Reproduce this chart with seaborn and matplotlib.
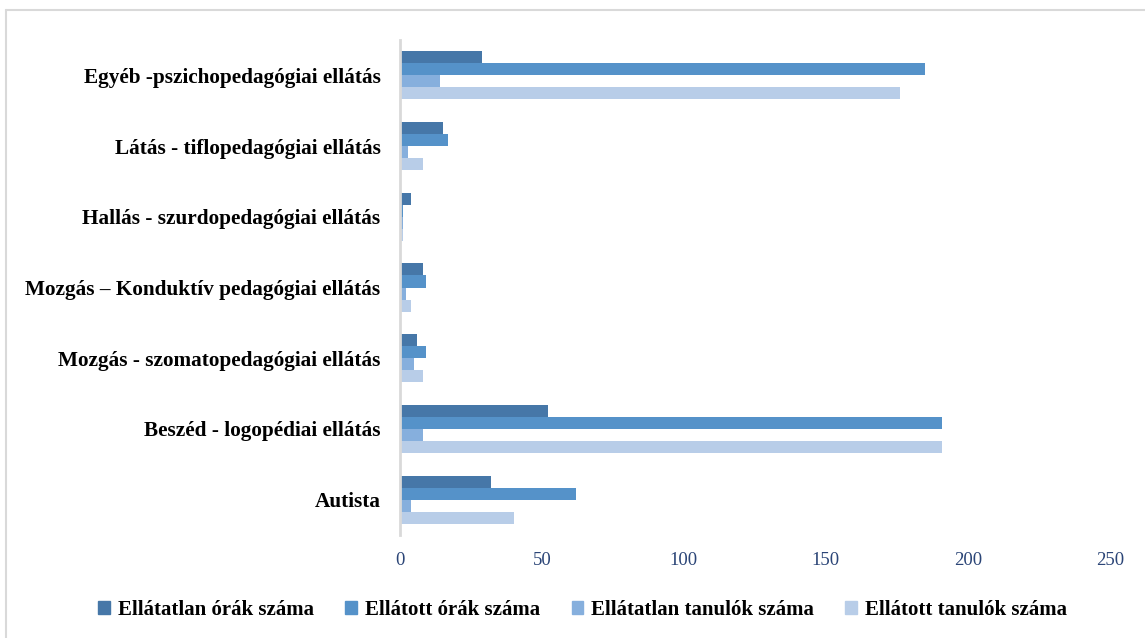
import pandas as pd
import matplotlib.pyplot as plt
import seaborn as sns
from matplotlib.lines import Line2D

# categories top to bottom
kategoriak = ["Egyéb -pszichopedagógiai ellátás",
              "Látás - tiflopedagógiai ellátás",
              "Hallás - szurdopedagógiai ellátás",
              "Mozgás – Konduktív pedagógiai ellátás",
              "Mozgás - szomatopedagógiai ellátás",
              "Beszéd - logopédiai ellátás",
              "Autista"]
ellatatlan_orak = [29, 15, 4, 8, 6, 52, 32]
ellatott_orak = [185, 17, 1, 9, 9, 191, 62]
ellatatlan_tanulok = [14, 3, 1, 2, 5, 8, 4]
ellatott_tanulok = [176, 8, 1, 4, 8, 191, 40]
sorozatok = ["Ellátatlan órák száma", "Ellátott órák száma",
             "Ellátatlan tanulók száma", "Ellátott tanulók száma"]
szinek = ["#4677A8", "#5592C9", "#86AFDD", "#B8CDE8"]

df = pd.DataFrame({"kat": kategoriak,
                   sorozatok[0]: ellatatlan_orak,
                   sorozatok[1]: ellatott_orak,
                   sorozatok[2]: ellatatlan_tanulok,
                   sorozatok[3]: ellatott_tanulok})
ldf = df.melt(id_vars="kat", var_name="sorozat", value_name="ertek")

sns.set_style("white")
plt.rcParams['font.family'] = ['Liberation Serif', 'DejaVu Serif']
plt.rcParams['text.color'] = 'black'
plt.rcParams['ytick.color'] = 'black'

fig = plt.figure(figsize=(11.45, 6.38), dpi=100)
ax = fig.add_axes([0.3493, 0.1614, 0.6201, 0.7759])
sns.barplot(data=ldf, y="kat", x="ertek", hue="sorozat", hue_order=sorozatok,
            order=kategoriak, palette=szinek, width=0.68, orient="h",
            linewidth=0, saturation=1, ax=ax, legend=False)

ax.set_xlim(0, 250)
ax.set_xticks([0, 50, 100, 150, 200, 250])
ax.set_xlabel("")
ax.set_ylabel("")
for s in ["top", "right", "bottom"]:
    ax.spines[s].set_visible(False)
ax.spines["left"].set_color("#d9d9d9")
ax.spines["left"].set_linewidth(2)
ax.tick_params(axis="x", length=0, pad=12, labelsize=13.5, labelcolor="#2B4577")
ax.tick_params(axis="y", length=0, pad=14, labelsize=15.3, labelcolor="black")
for t in ax.get_yticklabels():
    t.set_fontweight("bold")

handles = [plt.Rectangle((0, 0), 1, 1, color=c) for c in szinek]
fig.legend(handles, sorozatok, loc="center", bbox_to_anchor=(0.509, 0.044),
           ncol=4, frameon=False, handlelength=0.55, handleheight=0.55,
           handletextpad=0.4, columnspacing=1.5,
           prop={"weight": "bold", "size": 15})

# chart border (left and top)
fig.add_artist(Line2D([6 / 1145, 6 / 1145], [0, 1 - 10 / 638], color="#d9d9d9", lw=1.5))
fig.add_artist(Line2D([6 / 1145, 1], [1 - 10 / 638, 1 - 10 / 638], color="#d9d9d9", lw=1.5))

fig.savefig("out.png", dpi=100)
